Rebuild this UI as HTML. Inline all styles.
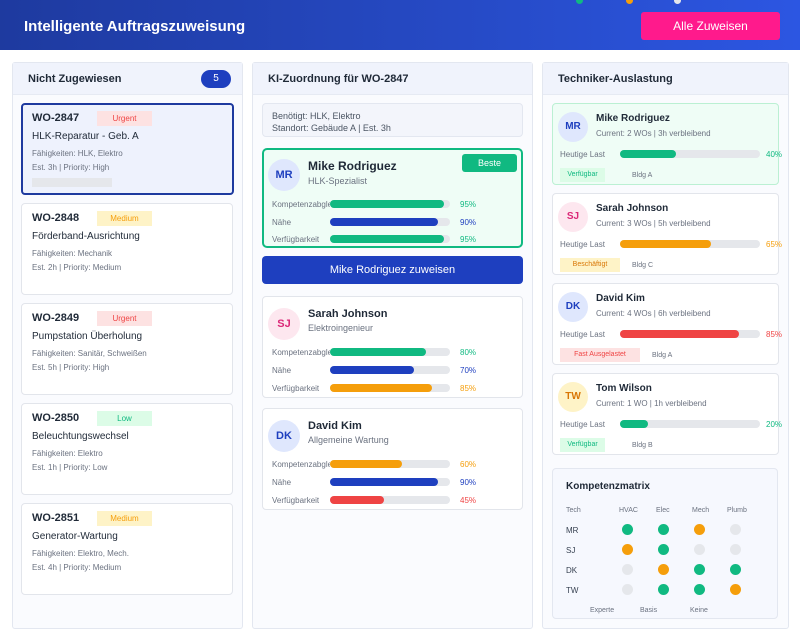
<!DOCTYPE html>
<html><head><meta charset="utf-8"><style>
*{margin:0;padding:0;box-sizing:border-box}
body{width:800px;height:640px;background:#fff;font-family:"Liberation Sans",sans-serif;position:relative;overflow:hidden;color:#1f2937}
.a{position:absolute}
.hdr{left:0;top:0;width:800px;height:50px;background:linear-gradient(90deg,#1e3a9f,#2c56e2)}
.panel{background:#fafbfe;border:1px solid #e3e7f0;border-radius:3px}
.ph{background:#f0f3fc;height:32px;border-bottom:1px solid #e6eaf3}
.pt{font-size:11px;font-weight:bold;color:#1f2937}
.card{background:#fff;border:1px solid #e2e5eb;border-radius:4px}
.b{font-weight:bold}
.s9{font-size:8px;color:#6b7280}
.bar{height:8px;border-radius:4px;background:#e5e7eb}
.bar i{display:block;height:8px;border-radius:4px}
.av{border-radius:50%;text-align:center;font-weight:bold;font-size:11px}
.dot{width:11px;height:11px;border-radius:50%}
</style></head><body>
<div class="a hdr"></div>
<div class="a" style="left:24px;top:18px;color:#fff;font-size:15px;font-weight:bold">Intelligente Auftragszuweisung</div>
<div class="a" style="left:576px;top:-3px;width:7px;height:7px;border-radius:50%;background:#10b981"></div>
<div class="a" style="left:626px;top:-3px;width:7px;height:7px;border-radius:50%;background:#f59e0b"></div>
<div class="a" style="left:674px;top:-3px;width:7px;height:7px;border-radius:50%;background:#e5e7eb"></div>
<div class="a" style="left:641px;top:12px;width:139px;height:28px;background:#ff1a8c;border-radius:3px;color:#fff;font-size:12px;text-align:center;line-height:28px">Alle Zuweisen</div>

<!-- LEFT -->
<div class="a panel" style="left:12px;top:62px;width:231px;height:567px"></div>
<div class="a ph" style="left:13px;top:63px;width:229px"></div>
<div class="a pt" style="left:28px;top:73px">Nicht Zugewiesen</div>
<div class="a" style="left:201px;top:70px;width:30px;height:18px;border-radius:9px;background:#1e3fbf;color:#fff;font-size:10px;text-align:center;line-height:18px">5</div>

<div class="a card" style="left:21px;top:103px;width:213px;height:92px;border:2px solid #1e3a9f;background:#eef2fd"></div>

<div class="a" style="left:32px;top:112px;font-size:11px" ><b>WO-2847</b></div>
<div class="a" style="left:97px;top:111px;width:55px;height:15px;background:#fde2e2;color:#ef4444;font-size:8px;text-align:center;line-height:15px">Urgent</div>
<div class="a" style="left:32px;top:131px;font-size:10px">HLK-Reparatur - Geb. A</div>
<div class="a s9" style="left:32px;top:149px">Fähigkeiten: HLK, Elektro</div>
<div class="a s9" style="left:32px;top:163px">Est. 3h | Priority: High</div>
<div class="a" style="left:32px;top:178px;width:80px;height:9px;background:#e5e7eb"></div>

<div class="a card" style="left:21px;top:203px;width:212px;height:92px"></div>
<div class="a" style="left:32px;top:212px;font-size:11px"><b>WO-2848</b></div>
<div class="a" style="left:97px;top:211px;width:55px;height:15px;background:#fef3c7;color:#f59e0b;font-size:8px;text-align:center;line-height:15px">Medium</div>
<div class="a" style="left:32px;top:231px;font-size:10px">Förderband-Ausrichtung</div>
<div class="a s9" style="left:32px;top:249px">Fähigkeiten: Mechanik</div>
<div class="a s9" style="left:32px;top:263px">Est. 2h | Priority: Medium</div>

<div class="a card" style="left:21px;top:303px;width:212px;height:92px"></div>
<div class="a" style="left:32px;top:312px;font-size:11px"><b>WO-2849</b></div>
<div class="a" style="left:97px;top:311px;width:55px;height:15px;background:#fde2e2;color:#ef4444;font-size:8px;text-align:center;line-height:15px">Urgent</div>
<div class="a" style="left:32px;top:331px;font-size:10px">Pumpstation Überholung</div>
<div class="a s9" style="left:32px;top:349px">Fähigkeiten: Sanitär, Schweißen</div>
<div class="a s9" style="left:32px;top:363px">Est. 5h | Priority: High</div>

<div class="a card" style="left:21px;top:403px;width:212px;height:92px"></div>
<div class="a" style="left:32px;top:412px;font-size:11px"><b>WO-2850</b></div>
<div class="a" style="left:97px;top:411px;width:55px;height:15px;background:#dcfce7;color:#10b981;font-size:8px;text-align:center;line-height:15px">Low</div>
<div class="a" style="left:32px;top:431px;font-size:10px">Beleuchtungswechsel</div>
<div class="a s9" style="left:32px;top:449px">Fähigkeiten: Elektro</div>
<div class="a s9" style="left:32px;top:463px">Est. 1h | Priority: Low</div>

<div class="a card" style="left:21px;top:503px;width:212px;height:92px"></div>
<div class="a" style="left:32px;top:512px;font-size:11px"><b>WO-2851</b></div>
<div class="a" style="left:97px;top:511px;width:55px;height:15px;background:#fef3c7;color:#f59e0b;font-size:8px;text-align:center;line-height:15px">Medium</div>
<div class="a" style="left:32px;top:531px;font-size:10px">Generator-Wartung</div>
<div class="a s9" style="left:32px;top:549px">Fähigkeiten: Elektro, Mech.</div>
<div class="a s9" style="left:32px;top:563px">Est. 4h | Priority: Medium</div>

<!-- MIDDLE -->
<div class="a panel" style="left:252px;top:62px;width:281px;height:567px"></div>
<div class="a ph" style="left:253px;top:63px;width:279px"></div>
<div class="a pt" style="left:268px;top:73px">KI-Zuordnung für WO-2847</div>
<div class="a" style="left:262px;top:103px;width:261px;height:34px;background:#f3f5fb;border:1px solid #e3e7f0;border-radius:4px"></div>
<div class="a" style="left:272px;top:110px;font-size:9px;color:#4b5563;line-height:12px">Benötigt: HLK, Elektro<br>Standort: Gebäude A | Est. 3h</div>

<div class="a" style="left:262px;top:148px;width:261px;height:100px;background:#effdf6;border:2px solid #10b981;border-radius:5px"></div>
<div class="a" style="left:462px;top:154px;width:55px;height:18px;background:#10b981;border-radius:3px;color:#fff;font-size:9px;text-align:center;line-height:18px">Beste</div>
<div class="a av" style="left:268px;top:159px;width:32px;height:32px;background:#dfe7fd;color:#1e3fbf;line-height:32px">MR</div>
<div class="a b" style="left:308px;top:159px;font-size:12px">Mike Rodriguez</div>
<div class="a s9" style="left:308px;top:176px;font-size:9px">HLK-Spezialist</div>

<div class="a" style="left:262px;top:256px;width:261px;height:28px;background:#1e3fbf;border-radius:4px;color:#fff;font-size:11px;text-align:center;line-height:28px">Mike Rodriguez zuweisen</div>

<div class="a card" style="left:262px;top:296px;width:261px;height:102px"></div>
<div class="a av" style="left:268px;top:308px;width:32px;height:32px;background:#fde7ef;color:#db2777;line-height:32px">SJ</div>
<div class="a b" style="left:308px;top:308px;font-size:11px">Sarah Johnson</div>
<div class="a s9" style="left:308px;top:323px;font-size:9px">Elektroingenieur</div>

<div class="a card" style="left:262px;top:408px;width:261px;height:102px"></div>
<div class="a av" style="left:268px;top:420px;width:32px;height:32px;background:#dfe7fd;color:#1e3fbf;line-height:32px">DK</div>
<div class="a b" style="left:308px;top:420px;font-size:11px">David Kim</div>
<div class="a s9" style="left:308px;top:435px;font-size:9px">Allgemeine Wartung</div>

<!-- RIGHT -->
<div class="a panel" style="left:542px;top:62px;width:247px;height:567px"></div>
<div class="a ph" style="left:543px;top:63px;width:245px"></div>
<div class="a pt" style="left:558px;top:73px">Techniker-Auslastung</div>

<div class="a card" style="left:552px;top:103px;width:227px;height:82px;background:#effdf6;border-color:#bbf0d3"></div>
<div class="a av" style="left:558px;top:112px;width:30px;height:30px;background:#dfe7fd;color:#1e3fbf;line-height:30px;font-size:10px">MR</div>
<div class="a b" style="left:596px;top:113px;font-size:10px">Mike Rodriguez</div>
<div class="a s9" style="left:596px;top:129px">Current: 2 WOs | 3h verbleibend</div>
<div class="a s9" style="left:560px;top:150px">Heutige Last</div>
<div class="a bar" style="left:620px;top:150px;width:140px"><i style="width:40%;background:#10b981"></i></div>
<div class="a" style="left:766px;top:150px;font-size:8px;color:#10b981">40%</div>
<div class="a" style="left:560px;top:168px;width:45px;height:14px;background:#dcfce7;color:#10b981;font-size:7px;text-align:center;line-height:14px">Verfügbar</div>
<div class="a s9" style="left:632px;top:172px;font-size:7px">Bldg A</div>

<div class="a card" style="left:552px;top:193px;width:227px;height:82px"></div>
<div class="a av" style="left:558px;top:202px;width:30px;height:30px;background:#fde7ef;color:#db2777;line-height:30px;font-size:10px">SJ</div>
<div class="a b" style="left:596px;top:203px;font-size:10px">Sarah Johnson</div>
<div class="a s9" style="left:596px;top:219px">Current: 3 WOs | 5h verbleibend</div>
<div class="a s9" style="left:560px;top:240px">Heutige Last</div>
<div class="a bar" style="left:620px;top:240px;width:140px"><i style="width:65%;background:#f59e0b"></i></div>
<div class="a" style="left:766px;top:240px;font-size:8px;color:#f59e0b">65%</div>
<div class="a" style="left:560px;top:258px;width:60px;height:14px;background:#fef3c7;color:#d97706;font-size:7px;text-align:center;line-height:14px">Beschäftigt</div>
<div class="a s9" style="left:632px;top:262px;font-size:7px">Bldg C</div>

<div class="a card" style="left:552px;top:283px;width:227px;height:82px"></div>
<div class="a av" style="left:558px;top:292px;width:30px;height:30px;background:#dfe7fd;color:#1e3fbf;line-height:30px;font-size:10px">DK</div>
<div class="a b" style="left:596px;top:293px;font-size:10px">David Kim</div>
<div class="a s9" style="left:596px;top:309px">Current: 4 WOs | 6h verbleibend</div>
<div class="a s9" style="left:560px;top:330px">Heutige Last</div>
<div class="a bar" style="left:620px;top:330px;width:140px"><i style="width:85%;background:#ef4444"></i></div>
<div class="a" style="left:766px;top:330px;font-size:8px;color:#ef4444">85%</div>
<div class="a" style="left:560px;top:348px;width:80px;height:14px;background:#fde2e2;color:#ef4444;font-size:7px;text-align:center;line-height:14px">Fast Ausgelastet</div>
<div class="a s9" style="left:652px;top:352px;font-size:7px">Bldg A</div>

<div class="a card" style="left:552px;top:373px;width:227px;height:82px"></div>
<div class="a av" style="left:558px;top:382px;width:30px;height:30px;background:#fef3c7;color:#d97706;line-height:30px;font-size:10px">TW</div>
<div class="a b" style="left:596px;top:383px;font-size:10px">Tom Wilson</div>
<div class="a s9" style="left:596px;top:399px">Current: 1 WO | 1h verbleibend</div>
<div class="a s9" style="left:560px;top:420px">Heutige Last</div>
<div class="a bar" style="left:620px;top:420px;width:140px"><i style="width:20%;background:#10b981"></i></div>
<div class="a" style="left:766px;top:420px;font-size:8px;color:#10b981">20%</div>
<div class="a" style="left:560px;top:438px;width:45px;height:14px;background:#dcfce7;color:#10b981;font-size:7px;text-align:center;line-height:14px">Verfügbar</div>
<div class="a s9" style="left:632px;top:442px;font-size:7px">Bldg B</div>

<div class="a" style="left:552px;top:468px;width:226px;height:151px;background:#f6f8fe;border:1px solid #e3e7f0;border-radius:4px"></div>
<div class="a b" style="left:566px;top:481px;font-size:10px">Kompetenzmatrix</div>
<div class="a s9" style="left:566px;top:507px;font-size:7px">Tech</div>
<div class="a s9" style="left:619px;top:507px;font-size:7px">HVAC</div>
<div class="a s9" style="left:656px;top:507px;font-size:7px">Elec</div>
<div class="a s9" style="left:692px;top:507px;font-size:7px">Mech</div>
<div class="a s9" style="left:727px;top:507px;font-size:7px">Plumb</div>
<div class="a" style="left:566px;top:526px;font-size:8px;color:#374151">MR</div>
<div class="a" style="left:566px;top:546px;font-size:8px;color:#374151">SJ</div>
<div class="a" style="left:566px;top:566px;font-size:8px;color:#374151">DK</div>
<div class="a" style="left:566px;top:586px;font-size:8px;color:#374151">TW</div>
<div class="a s9" style="left:590px;top:607px;font-size:7px">Experte</div>
<div class="a s9" style="left:640px;top:607px;font-size:7px">Basis</div>
<div class="a s9" style="left:690px;top:607px;font-size:7px">Keine</div>

<div class="a s9" style="left:272px;top:200px;width:58px;overflow:hidden;white-space:nowrap">Kompetenzabgleich</div>
<div class="a bar" style="left:330px;top:200px;width:120px"><i style="width:95%;background:#10b981"></i></div>
<div class="a" style="left:460px;top:200px;font-size:8px;color:#10b981">95%</div>
<div class="a s9" style="left:272px;top:218px">Nähe</div>
<div class="a bar" style="left:330px;top:218px;width:120px"><i style="width:90%;background:#1e3fbf"></i></div>
<div class="a" style="left:460px;top:218px;font-size:8px;color:#1e3fbf">90%</div>
<div class="a s9" style="left:272px;top:235px">Verfügbarkeit</div>
<div class="a bar" style="left:330px;top:235px;width:120px"><i style="width:95%;background:#10b981"></i></div>
<div class="a" style="left:460px;top:235px;font-size:8px;color:#10b981">95%</div>

<div class="a s9" style="left:272px;top:348px;width:58px;overflow:hidden;white-space:nowrap">Kompetenzabgleich</div>
<div class="a bar" style="left:330px;top:348px;width:120px"><i style="width:80%;background:#10b981"></i></div>
<div class="a" style="left:460px;top:348px;font-size:8px;color:#10b981">80%</div>
<div class="a s9" style="left:272px;top:366px">Nähe</div>
<div class="a bar" style="left:330px;top:366px;width:120px"><i style="width:70%;background:#1e3fbf"></i></div>
<div class="a" style="left:460px;top:366px;font-size:8px;color:#1e3fbf">70%</div>
<div class="a s9" style="left:272px;top:384px">Verfügbarkeit</div>
<div class="a bar" style="left:330px;top:384px;width:120px"><i style="width:85%;background:#f59e0b"></i></div>
<div class="a" style="left:460px;top:384px;font-size:8px;color:#f59e0b">85%</div>

<div class="a s9" style="left:272px;top:460px;width:58px;overflow:hidden;white-space:nowrap">Kompetenzabgleich</div>
<div class="a bar" style="left:330px;top:460px;width:120px"><i style="width:60%;background:#f59e0b"></i></div>
<div class="a" style="left:460px;top:460px;font-size:8px;color:#f59e0b">60%</div>
<div class="a s9" style="left:272px;top:478px">Nähe</div>
<div class="a bar" style="left:330px;top:478px;width:120px"><i style="width:90%;background:#1e3fbf"></i></div>
<div class="a" style="left:460px;top:478px;font-size:8px;color:#1e3fbf">90%</div>
<div class="a s9" style="left:272px;top:496px">Verfügbarkeit</div>
<div class="a bar" style="left:330px;top:496px;width:120px"><i style="width:45%;background:#ef4444"></i></div>
<div class="a" style="left:460px;top:496px;font-size:8px;color:#ef4444">45%</div>

<div class="a dot" style="left:622px;top:524px;background:#10b981"></div>
<div class="a dot" style="left:658px;top:524px;background:#10b981"></div>
<div class="a dot" style="left:694px;top:524px;background:#f59e0b"></div>
<div class="a dot" style="left:730px;top:524px;background:#e5e7eb"></div>
<div class="a dot" style="left:622px;top:544px;background:#f59e0b"></div>
<div class="a dot" style="left:658px;top:544px;background:#10b981"></div>
<div class="a dot" style="left:694px;top:544px;background:#e5e7eb"></div>
<div class="a dot" style="left:730px;top:544px;background:#e5e7eb"></div>
<div class="a dot" style="left:622px;top:564px;background:#e5e7eb"></div>
<div class="a dot" style="left:658px;top:564px;background:#f59e0b"></div>
<div class="a dot" style="left:694px;top:564px;background:#10b981"></div>
<div class="a dot" style="left:730px;top:564px;background:#10b981"></div>
<div class="a dot" style="left:622px;top:584px;background:#e5e7eb"></div>
<div class="a dot" style="left:658px;top:584px;background:#10b981"></div>
<div class="a dot" style="left:694px;top:584px;background:#10b981"></div>
<div class="a dot" style="left:730px;top:584px;background:#f59e0b"></div>
</body></html>
